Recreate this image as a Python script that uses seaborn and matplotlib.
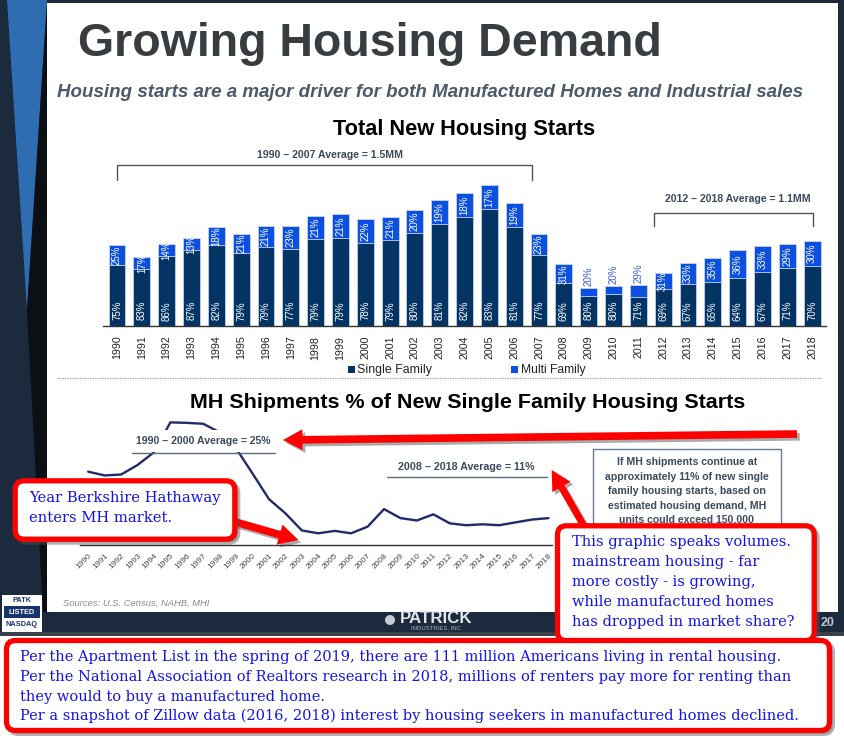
import numpy as np
import pandas as pd
import matplotlib
matplotlib.use("Agg")
import matplotlib.pyplot as plt
import seaborn as sns
from matplotlib.patches import Rectangle, FancyBboxPatch, FancyArrowPatch, Polygon, Circle
import matplotlib.patheffects as pe

# ---------------- data ----------------
years = list(range(1990, 2019))
total_starts = [1193, 1014, 1200, 1288, 1457, 1354, 1477, 1474, 1617, 1641, 1569, 1603,
                1705, 1848, 1956, 2068, 1801, 1355, 906, 554, 587, 609, 781, 925, 1003,
                1112, 1174, 1203, 1250]  # thousands
single_pct = [75, 83, 86, 87, 82, 79, 79, 77, 79, 79, 78, 79, 80, 81, 82, 83, 81, 77, 69,
              80, 80, 71, 69, 67, 65, 64, 67, 71, 70]
multi_pct = [25, 17, 14, 13, 18, 21, 21, 23, 21, 21, 22, 21, 20, 19, 18, 17, 19, 23, 31,
             20, 20, 29, 31, 33, 35, 36, 33, 29, 30]
mh_share = [21.2, 20.4, 20.6, 22.6, 25.3, 31.6, 31.5, 31.3, 29.5, 26.1, 20.8, 15.4, 12.4,
            8.8, 8.2, 8.7, 8.2, 9.6, 13.3, 11.4, 10.9, 12.2, 10.3, 9.9, 10.1, 9.9, 10.5,
            11.1, 11.4]
year_labels = [str(y) for y in years]

# ---------------- style ----------------
sns.set_theme(style="white")
plt.rcParams["font.family"] = ["Liberation Sans", "DejaVu Sans"]

SF_COL = "#043463"
MF_COL = "#0b50e0"
NAVY_BG = "#1c2a3d"
TXT_GREY = "#3c4a5c"
RED = "#ff0000"
BLUE_TXT = "#1414e6"

W, H = 845, 740
fig = plt.figure(figsize=(W / 100, H / 100), dpi=100)
fig.patch.set_facecolor("white")
renderer = fig.canvas.get_renderer()


def rect(x0, y0, x1, y1):
    return [x0 / W, 1 - y1 / H, (x1 - x0) / W, (y1 - y0) / H]


def fit(t, w):
    bb = t.get_window_extent(renderer)
    t.set_fontsize(t.get_fontsize() * w / bb.width)
    return t


# ---------------- background frame ----------------
bg = fig.add_axes([0, 0, 1, 1], zorder=0)
bg.set_xlim(0, W)
bg.set_ylim(H, 0)
bg.axis("off")
bg.add_patch(Rectangle((0, 0), W, 636, color=NAVY_BG, lw=0))
bg.add_patch(Rectangle((0, 632), W, 4, color="#3a4048", lw=0))
bg.add_patch(Rectangle((47, 3), 791, 609, color="white", lw=0))
bg.add_patch(Polygon([(7, 0), (47, 0), (27, 310)], closed=True, color="#2f6db3", lw=0))
bg.add_patch(Polygon([(47, 3), (27, 310), (43, 612), (47, 612)], closed=True, color="#0c0f14", lw=0))

# ---------------- bar chart ----------------
axb = fig.add_axes(rect(103, 140, 826, 326), zorder=2)
axb.patch.set_alpha(0)
df = pd.DataFrame({
    "year": year_labels,
    "total": total_starts,
    "single": [t * p / 100 for t, p in zip(total_starts, single_pct)],
})
sns.barplot(data=df, x="year", y="total", color=MF_COL, saturation=1, width=0.68,
            edgecolor="#c9d6f0", linewidth=0.6, errorbar=None, ax=axb)
sns.barplot(data=df, x="year", y="single", color=SF_COL, saturation=1, width=0.68,
            edgecolor="#c9d6f0", linewidth=0.6, errorbar=None, ax=axb)
axb.set_xlim(-0.564, 28.56)
axb.set_ylim(0, 186 * 14.7)
for s in ["top", "right", "left"]:
    axb.spines[s].set_visible(False)
axb.spines["bottom"].set_color("#333333")
axb.spines["bottom"].set_linewidth(1.0)
axb.set_yticks([])
axb.set_xlabel("")
axb.set_ylabel("")
axb.set_xticks(range(len(years)))
axb.set_xticklabels(year_labels, rotation=90, fontsize=7.7, color="#222222")
axb.tick_params(axis="x", which="major", length=0, pad=7)
axb.set_xticks(np.arange(-0.5, len(years), 1), minor=True)
axb.tick_params(axis="x", which="minor", length=6, width=0.8, direction="inout", color="#333333")

for i, (t, sp, mp) in enumerate(zip(total_starts, single_pct, multi_pct)):
    sf = t * sp / 100
    axb.annotate(f"{sp}%", xy=(i, 0), xytext=(0, 11), textcoords="offset points",
                 rotation=90, ha="center", va="center", fontsize=7, color="white")
    if t < 700:
        axb.annotate(f"{mp}%", xy=(i, t), xytext=(0, 8.5), textcoords="offset points",
                     rotation=90, ha="center", va="center", fontsize=7, color="#3b5fd9")
    else:
        axb.text(i, (sf + t) / 2, f"{mp}%", rotation=90, ha="center", va="center",
                 fontsize=7, color="white")

# brackets
brk = dict(color="#555555", lw=1.0, clip_on=False)
axb.plot([0, 0, 16.7, 16.7], [2146, 2367, 2367, 2146], **brk)
axb.plot([21.64, 21.64, 28.03, 28.03], [1470, 1666, 1666, 1470], **brk)
t1 = axb.text(8.58, 2514, "1990 – 2007 Average = 1.5MM", ha="center", va="center",
              fontsize=7, fontweight="bold", color=TXT_GREY)
t2 = axb.text(25.02, 1871, "2012 – 2018 Average = 1.1MM", ha="center", va="center",
              fontsize=7, fontweight="bold", color=TXT_GREY)

# ---------------- line chart ----------------
axl = fig.add_axes(rect(80, 415, 552, 545), zorder=2)
axl.patch.set_alpha(0)
sns.lineplot(x=np.arange(len(years)), y=mh_share, color="#1f2b6b", lw=1.7, ax=axl, zorder=2)
axl.set_xlim(-0.5, 28.22)
axl.set_ylim(5.73, 5.73 + 130 / 4.74)
for s in ["top", "right", "left"]:
    axl.spines[s].set_visible(False)
axl.spines["bottom"].set_color("#333333")
axl.spines["bottom"].set_linewidth(1.0)
axl.set_yticks([])
axl.set_xticks(range(len(years)))
axl.set_xticklabels(year_labels, rotation=45, ha="right", rotation_mode="anchor",
                    fontsize=6, color="#444444")
axl.tick_params(axis="x", length=6, width=0.8, direction="inout", color="#333333", pad=2)

axl.add_patch(Rectangle((2.64, 25.35), 11.36 - 2.64, 29.95 - 25.35, color="white", lw=0, zorder=3))
axl.plot([2.64, 11.36], [25.08, 25.08], color="#5a6a80", lw=1.0, zorder=4)
t3 = axl.text(6.98, 27.73, "1990 – 2000 Average = 25%", ha="center", va="center",
              fontsize=7, fontweight="bold", color=TXT_GREY, zorder=4)
axl.plot([18.2, 27.9], [20.0, 20.0], color="#5a6a80", lw=1.0, zorder=4)
t4 = axl.text(23.0, 22.25, "2008 – 2018 Average = 11%", ha="center", va="center",
              fontsize=7, fontweight="bold", color=TXT_GREY, zorder=4)

# ---------------- overlay ----------------
ov = fig.add_axes([0, 0, 1, 1], zorder=5)
ov.patch.set_alpha(0)
ov.set_xlim(0, W)
ov.set_ylim(H, 0)
ov.axis("off")

title = ov.text(78, 56.5, "Growing Housing Demand", ha="left", va="baseline",
                fontsize=33, fontweight="bold", color="#383d42")
sub = ov.text(57, 92.5, "Housing starts are a major driver for both Manufactured Homes and Industrial sales",
              ha="left", va="center", fontsize=13, fontweight="bold", style="italic", color="#4b5a6b")
ttl1 = ov.text(464, 129, "Total New Housing Starts", ha="center", va="center",
               fontsize=13, fontweight="bold", color="black")
ttl2 = ov.text(468, 403, "MH Shipments % of New Single Family Housing Starts", ha="center",
               va="center", fontsize=13, fontweight="bold", color="black")

# legend
ov.add_patch(Rectangle((348, 366), 7, 7, color=SF_COL, lw=0))
lg1 = ov.text(357, 370, "Single Family", ha="left", va="center", fontsize=8.5, color="#222222")
ov.add_patch(Rectangle((511.5, 366), 7, 7, color=MF_COL, lw=0))
lg2 = ov.text(520.7, 370, "Multi Family", ha="left", va="center", fontsize=8.5, color="#222222")

# dotted separator
ov.plot([57, 822], [378, 378], color="#9a9a9a", lw=0.9, ls=(0, (1, 1)))

# info box
ov.add_patch(Rectangle((592.7, 449.3), 188, 90, fill=False, ec="#6a7a90", lw=1.0))
info_lines = ["If MH shipments continue at", "approximately 11% of new single",
              "family housing starts, based on", "estimated housing demand, MH",
              "units could exceed 150,000"]
info_y = [462.3, 476.7, 491.0, 505.7, 519.3]
info_txt = [ov.text(686.7, y, s, ha="center", va="center", fontsize=7, fontweight="bold",
                    color=TXT_GREY) for s, y in zip(info_lines, info_y)]
fit(info_txt[1], 165)
for t in info_txt:
    t.set_fontsize(info_txt[1].get_fontsize())

# sources
src = ov.text(63, 603, "Sources: U.S. Census, NAHB, MHI", ha="left", va="center",
              fontsize=6.5, style="italic", color="#8a8a8a")

# footer
ov.add_patch(Circle((390, 620), 5, color="#c8ccd2", lw=0))
pat = ov.text(436, 618.5, "PATRICK", ha="center", va="center", fontsize=10,
              fontweight="bold", color="#e2e5e9")
ov.text(437, 628, "INDUSTRIES, INC.", ha="center", va="center", fontsize=4.3, color="#b0b5bb")
ov.text(828, 623, "20", ha="center", va="center", fontsize=9, fontweight="bold", color="#c0c5cc")

# PATK badge
ov.add_patch(Rectangle((2, 595), 40, 37, color="white", lw=0))
ov.add_patch(Rectangle((4, 606), 36, 12, color="#16336b", lw=0))
ov.text(22, 600.5, "PATK", ha="center", va="center", fontsize=5.3, fontweight="bold", color="#16336b")
ov.text(22, 612, "LISTED", ha="center", va="center", fontsize=5.3, fontweight="bold", color="white")
ov.text(22, 624.5, "NASDAQ", ha="center", va="center", fontsize=5.3, fontweight="bold", color="#16336b")

# arrows
shadow = [pe.SimplePatchShadow(offset=(2, -2), shadow_rgbFace="#444444", alpha=0.45), pe.Normal()]


def arrow(p0, p1, tail=5.5, hw=15.0, hl=14.0):
    a = FancyArrowPatch(p0, p1,
                        arrowstyle=f"simple,head_length={hl},head_width={hw},tail_width={tail}",
                        mutation_scale=1, color=RED, shrinkA=0, shrinkB=0, lw=0,
                        joinstyle="round", capstyle="round", zorder=6, path_effects=shadow)
    ov.add_patch(a)


arrow((797, 434), (283, 440))
arrow((225, 519), (298.3, 540))
arrow((585, 528), (551.7, 470), tail=5.0)


def callout(x0, y0, x1, y1):
    ins = 2.5
    sh = FancyBboxPatch((x0 + ins + 3, y0 + ins + 3), x1 - x0 - 2 * ins, y1 - y0 - 2 * ins,
                        boxstyle="round,pad=0,rounding_size=9", fc="#555555", ec="#555555",
                        lw=3.6, alpha=0.45, zorder=7)
    bx = FancyBboxPatch((x0 + ins, y0 + ins), x1 - x0 - 2 * ins, y1 - y0 - 2 * ins,
                        boxstyle="round,pad=0,rounding_size=9", fc="white", ec=RED,
                        lw=3.8, zorder=8)
    ov.add_patch(sh)
    ov.add_patch(bx)


callout(12.7, 478.3, 237.3, 541.7)
callout(555, 523.3, 816.7, 643.3)
callout(4, 638, 832, 733)

serif = ["DejaVu Serif"]
bk = [ov.text(29, y, s, ha="left", va="center", fontsize=11, family=serif, color=BLUE_TXT, zorder=9)
      for s, y in zip(["Year Berkshire Hathaway", "enters MH market."], [498.3, 518.3])]
fit(bk[0], 190)
bk[1].set_fontsize(bk[0].get_fontsize())

rc_lines = ["This graphic speaks volumes.", "mainstream housing - far",
            "more costly - is growing,", "while manufactured homes",
            "has dropped in market share?"]
rc = [ov.text(571.7, y, s, ha="left", va="center", fontsize=11, family=serif, color=BLUE_TXT, zorder=9)
      for s, y in zip(rc_lines, [541.7, 561.7, 582.3, 601.7, 621.7])]
fit(rc[4], 221)
for t in rc:
    t.set_fontsize(rc[4].get_fontsize())

bt_lines = ["Per the Apartment List in the spring of 2019, there are 111 million Americans living in rental housing.",
            "Per the National Association of Realtors research in 2018, millions of renters pay more for renting than",
            "they would to buy a manufactured home.",
            "Per a snapshot of Zillow data (2016, 2018) interest by housing seekers in manufactured homes declined."]
bt = [ov.text(20, y, s, ha="left", va="center", fontsize=10, family=serif, color=BLUE_TXT, zorder=9)
      for s, y in zip(bt_lines, [656.7, 676.7, 696.7, 716.0])]
fit(bt[1], 775)
for t in bt:
    t.set_fontsize(bt[1].get_fontsize())

# fit headline widths
fit(title, 584)
fit(sub, 745)
fit(ttl1, 262)
fit(ttl2, 553)
fit(t1, 146)
fit(t2, 147)
fit(t3, 135.7)
fit(t4, 135.7)
fit(lg1, 74)
fit(lg2, 65)
fit(src, 146)
fit(pat, 72)

fig.savefig("out.png", dpi=100, facecolor=fig.get_facecolor())
